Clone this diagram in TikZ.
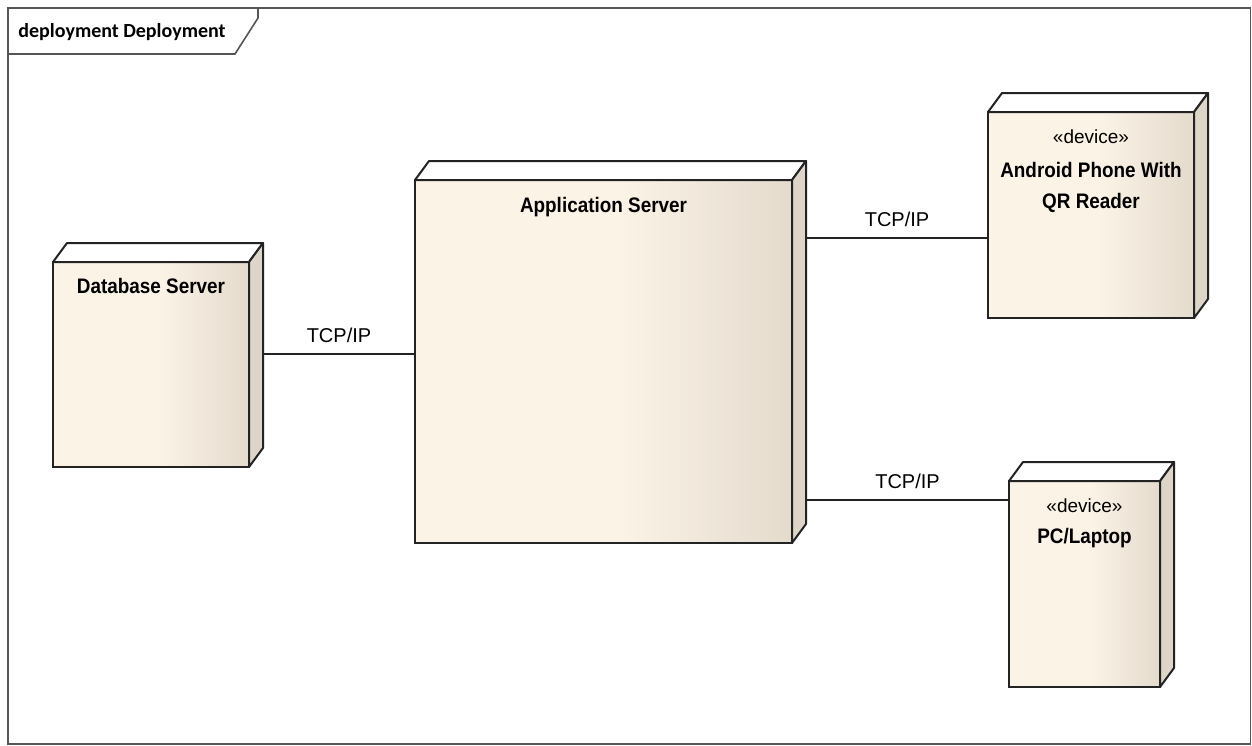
\documentclass[tikz,border=0pt]{standalone}
\usepackage{fontspec}
\setmainfont{Liberation Sans}
\newfontfamily\namefont{Liberation Sans}[FakeStretch=0.9]
\newfontfamily\tabfont{Carlito}
\usetikzlibrary{calc}

\definecolor{cream}{RGB}{251,243,230}
\definecolor{creamdark}{RGB}{228,219,205}
\definecolor{sideface}{RGB}{221,213,200}
\definecolor{edgecol}{RGB}{35,35,35}
\definecolor{framecol}{RGB}{85,85,85}
\pgfdeclarehorizontalshading{nodefill}{100bp}{color(0bp)=(cream); color(25bp)=(cream); color(52bp)=(cream); color(75bp)=(creamdark); color(100bp)=(creamdark)}

\tikzset{
  nodebox/.style={draw=edgecol, line width=1pt, shading=nodefill, outer sep=0pt, inner sep=0pt},
  facestyle/.style={draw=edgecol, line width=1pt, line join=round},
  nametext/.style={font=\namefont\bfseries\fontsize{10.5}{12}\selectfont, anchor=base, inner sep=0pt},
  stereo/.style={font=\fontsize{9.5}{11}\selectfont, anchor=base, inner sep=0pt},
  conn/.style={draw=edgecol, line width=1pt},
  lbl/.style={font=\fontsize{10}{12}\selectfont, midway, anchor=base, yshift=6pt, inner sep=0pt},
  framestyle/.style={draw=framecol, line width=0.8pt}
}

\newcommand\depthfaces[1]{%
  \draw[facestyle, fill=white] (#1.north west) -- ++(7pt,9.5pt) -- ($(#1.north east)+(7pt,9.5pt)$) -- (#1.north east) -- cycle;
  \draw[facestyle, fill=sideface] (#1.north east) -- ++(7pt,9.5pt) -- ($(#1.south east)+(7pt,9.5pt)$) -- (#1.south east) -- cycle;
}

\begin{document}
\begin{tikzpicture}[x=0.5pt, y=-0.5pt]
\useasboundingbox (0,0) rectangle (1252,745);

% frame
\draw[framestyle] (8,8) rectangle (1250.5,744);
\draw[framestyle] (8,54) -- (235,54) -- (258,18) -- (258,8);
\node[font=\tabfont\bfseries\fontsize{10}{12}\selectfont, anchor=base west, inner sep=0pt] (tab) at (18,37) {deployment Deployment};

% nodes
\node[nodebox, minimum width=98pt, minimum height=102.5pt] (db) at (151,364.5) {};
\depthfaces{db}
\node[nametext] (dbt) at ([yshift=-15.5pt]db.north) {Database Server};

\node[nodebox, minimum width=188.5pt, minimum height=181.5pt] (app) at (603.5,361.5) {};
\depthfaces{app}
\node[nametext] (appt) at ([yshift=-16pt]app.north) {Application Server};

\node[nodebox, minimum width=103pt, minimum height=103pt] (android) at (1091,215) {};
\depthfaces{android}
\node[stereo] (ands) at ([yshift=-15.5pt]android.north) {«device»};
\node[nametext] (andt1) at ([yshift=-32.5pt]android.north) {Android Phone With};
\node[nametext] (andt2) at ([yshift=-48pt]android.north) {QR Reader};

\node[nodebox, minimum width=75.5pt, minimum height=103pt] (pc) at (1084.5,584) {};
\depthfaces{pc}
\node[stereo] (pcs) at ([yshift=-15.5pt]pc.north) {«device»};
\node[nametext] (pct) at ([yshift=-31pt]pc.north) {PC/Laptop};

% connectors
\coordinate (y1) at (0,354);
\coordinate (y2) at (0,238);
\coordinate (y3) at (0,500);
\draw[conn] ($(db.east |- y1)+(7pt,0)$) -- node[lbl] (l1) {TCP/IP} (app.west |- y1);
\draw[conn] ($(app.east |- y2)+(7pt,0)$) -- node[lbl] (l2) {TCP/IP} (android.west |- y2);
\draw[conn] ($(app.east |- y3)+(7pt,0)$) -- node[lbl] (l3) {TCP/IP} (pc.west |- y3);
\end{tikzpicture}
\end{document}
